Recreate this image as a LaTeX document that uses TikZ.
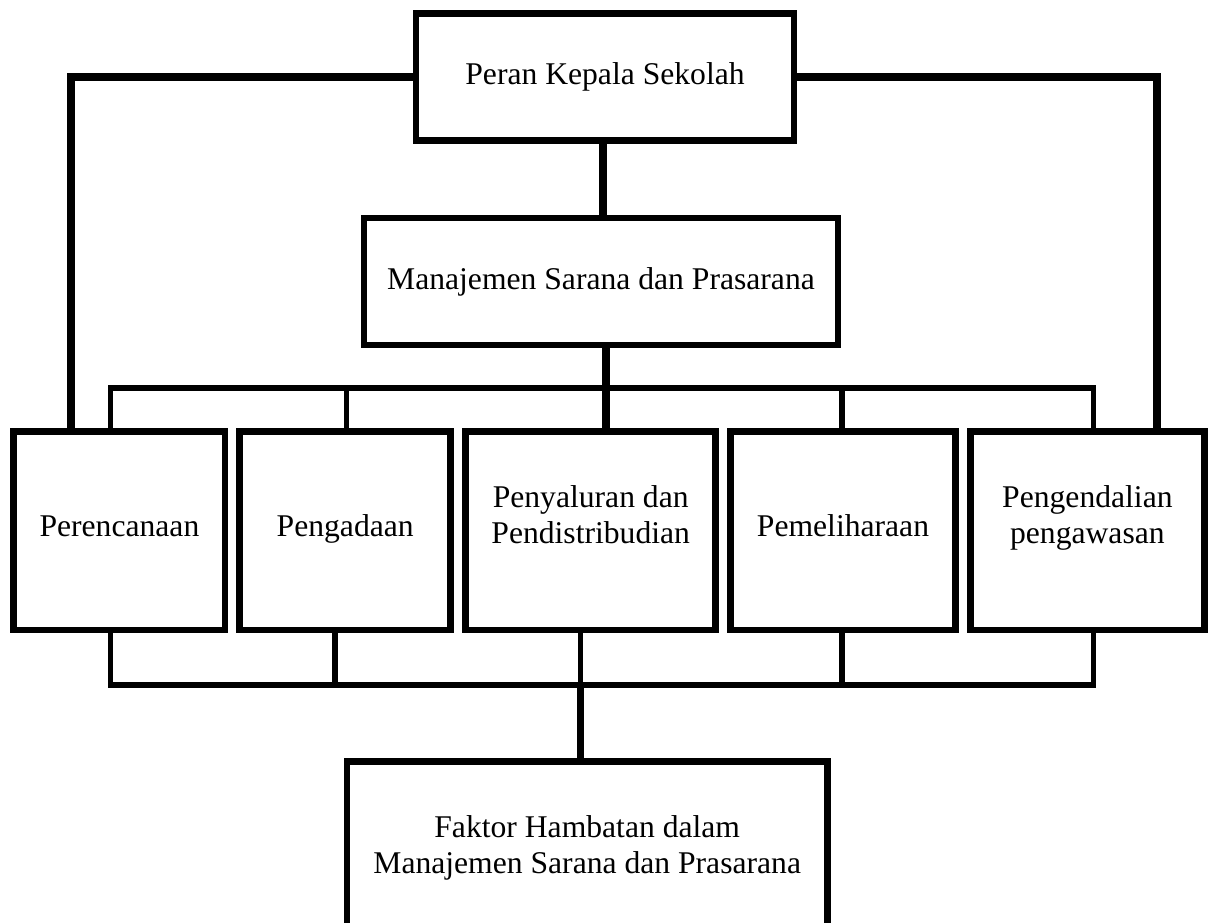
\documentclass[tikz,border=0pt]{standalone}
\usepackage{fontspec}
\setmainfont{Liberation Serif}
\begin{document}
\begin{tikzpicture}[x=0.02cm,y=-0.02cm,
  box/.style={draw,line width=3.7pt,inner sep=0pt,align=center,
    font=\fontsize{18}{20.6}\selectfont},
  item/.style={box,minimum height=3.97cm,text height=12.1pt,text depth=5pt},
  side/.style={line width=4.5pt},
  wire/.style={line width=4pt},
  rail/.style={line width=3.1pt}]
  \useasboundingbox (0,0) rectangle (1211,923);
  \clip (0,0) rectangle (1211,923);
  \node[box,minimum width=7.56cm,minimum height=2.54cm] (peran) at (605,77) {Peran Kepala Sekolah};
  \node[box,minimum width=9.48cm,minimum height=2.54cm] (manajemen) at (601,281.5) {Manajemen Sarana dan Prasarana};
  \node[item,minimum width=4.23cm] (rencana) at (119.4,530.75) {Perencanaan};
  \node[item,minimum width=4.22cm] (adaan) at (345.2,530.75) {Pengadaan};
  \node[item,minimum width=5cm,text height=,text depth=18.4pt] (salur) at (590.7,530.75) {Penyaluran dan\\Pendistribudian};
  \node[item,minimum width=4.51cm] (pelihara) at (843,530.75) {Pemeliharaan};
  \node[item,minimum width=4.68cm,text height=,text depth=18.4pt] (kendali) at (1087.4,530.75) {Pengendalian\\pengawasan};
  \node[box,minimum width=9.62cm,minimum height=3.46cm] (faktor) at (587.2,848.2) {Faktor Hambatan dalam\\Manajemen Sarana dan Prasarana};
  \coordinate (atas) at (0,388);
  \coordinate (bawah) at (0,685);

  \draw[side] (peran.west) -| (71,0 |- rencana.north);
  \draw[side] (peran.east) -| (1157,0 |- kendali.north);
  \draw[wire] (603,0 |- peran.south) -- (603,0 |- manajemen.north);
  \draw[wire] (606,0 |- manajemen.south) -- (606,0 |- salur.north);
  \draw[rail] (110.5,0 |- rencana.north) |- (1093.7,0 |- atas) -- (1093.7,0 |- kendali.north);
  \foreach \x/\n in {346.7/adaan,842/pelihara}
    \draw[rail] (\x,0 |- atas) -- (\x,0 |- \n.north);
  \draw[rail] (110.5,0 |- rencana.south) |- (1093.7,0 |- bawah) -- (1093.7,0 |- kendali.south);
  \foreach \x/\n in {335/adaan,580.7/salur,842/pelihara}
    \draw[rail] (\x,0 |- \n.south) -- (\x,0 |- bawah);
  \draw[wire] (580.7,0 |- bawah) -- (580.7,0 |- faktor.north);
\end{tikzpicture}
\end{document}
